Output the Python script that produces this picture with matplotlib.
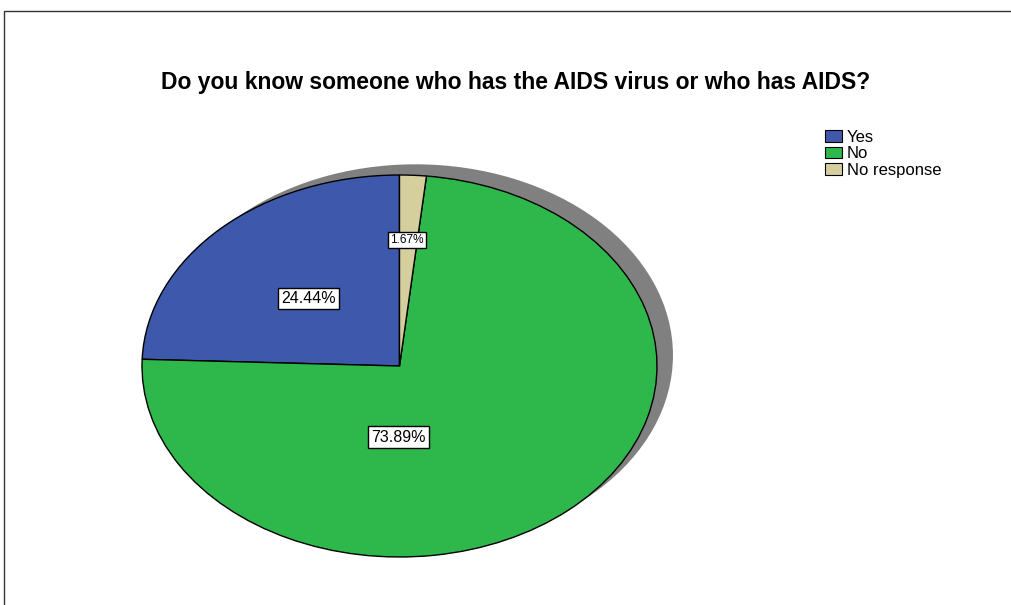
import matplotlib.pyplot as plt
from matplotlib.patches import Ellipse, Rectangle, Patch

plt.rcParams['font.family'] = ['Liberation Sans', 'DejaVu Sans']

# Survey answers
categories = ['Yes', 'No', 'No response']
percentages = [24.44, 73.89, 1.67]
colors = ['#3E59AC', '#2EB84B', '#D4CF9C']
title = 'Do you know someone who has the AIDS virus or who has AIDS?'

# where each percentage box sits inside the pie (axes data coords)
label_xy = [(-0.355, 0.355), (-0.005, -0.372), (0.03, 0.66)]
label_size = [11.5, 11.5, 8.5]

fig = plt.figure(figsize=(10.11, 6.05), dpi=100)

# outer frame, only top and left edges fall inside the image
fig.add_artist(Rectangle((4 / 1011, -0.5), 2.0, 0.5 + 1 - 11 / 605,
                         transform=fig.transFigure, fill=False,
                         edgecolor='#333333', linewidth=1.0))

fig.text(516 / 1011, 1 - 82 / 605, title, ha='center', va='center',
         fontsize=16.5, fontweight='bold')

# squashed pie: axes box is wider than tall, aspect left auto
ax = fig.add_axes([142 / 1011, 48 / 605, 515 / 1011, 382 / 605])
ax.axis('off')

# drop shadow behind the pie
ax.add_patch(Ellipse((0.062, 0.056), 2.0, 2.0, facecolor='#808080',
                     edgecolor='none', zorder=0, clip_on=False))

wedges, _ = ax.pie(percentages, colors=colors, startangle=90,
                   counterclock=True, radius=1.0,
                   wedgeprops=dict(edgecolor='black', linewidth=1.0))
for w in wedges:
    w.set_zorder(2)
    w.set_clip_on(False)
ax.set_xlim(-1, 1)
ax.set_ylim(-1, 1)
ax.set_aspect('auto')

for pct, (x, y), fs in zip(percentages, label_xy, label_size):
    ax.text(x, y, f'{pct:.2f}%', ha='center', va='center', fontsize=fs,
            zorder=5,
            bbox=dict(boxstyle='square,pad=0.2', facecolor='white',
                      edgecolor='black', linewidth=1.0))

handles = [Patch(facecolor=c, edgecolor='black', linewidth=0.8) for c in colors]
fig.legend(handles, categories, loc='upper left',
           bbox_to_anchor=(825 / 1011, 1 - 130 / 605), frameon=False,
           fontsize=12, handlelength=1.0, handleheight=0.7,
           handletextpad=0.3, labelspacing=0.08, borderaxespad=0,
           borderpad=0)

fig.savefig('out.png', dpi=100)
